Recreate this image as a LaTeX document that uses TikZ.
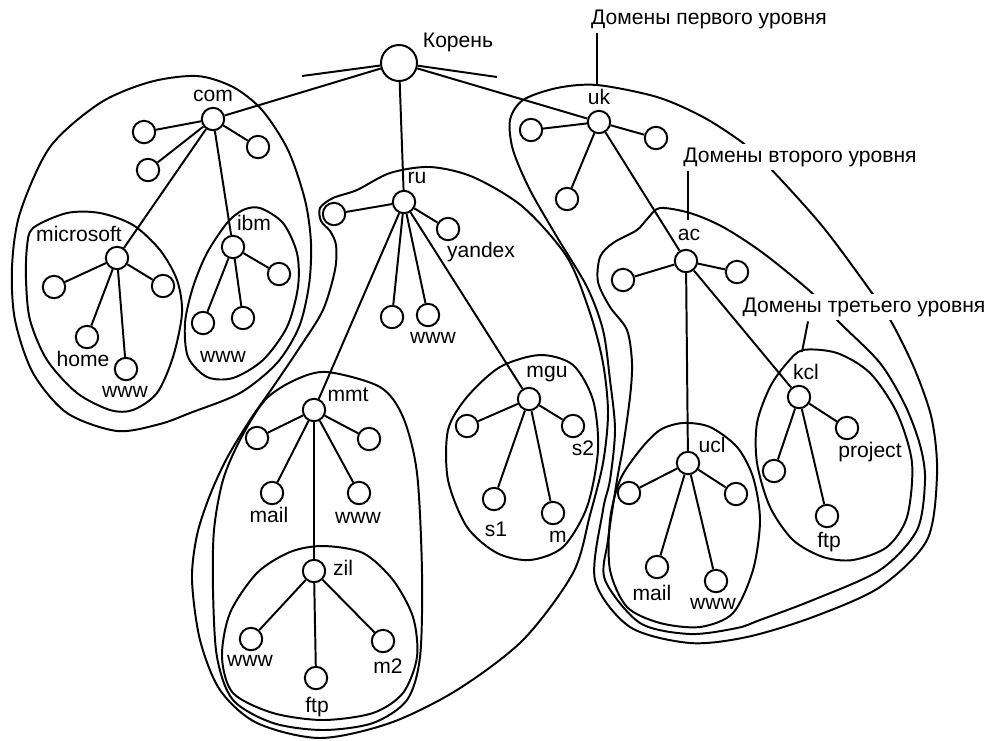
\documentclass[tikz,border=0pt]{standalone}
\usepackage{fontspec}
\setmainfont{Liberation Sans}
\usepackage{tikz}

\begin{document}
\begin{tikzpicture}[x=0.25mm, y=-0.25mm, line width=1.4pt,
  dom/.style={circle, draw, fill=white, minimum size=5.6mm, inner sep=0pt},
  rootdom/.style={dom, minimum size=9mm},
  lab/.style={font=\fontsize{15}{18}\selectfont, inner sep=0pt},
  lvl/.style={lab, fill=white, inner sep=1mm}
]
\useasboundingbox (0,0) rectangle (988,740);

% zones
\draw plot[smooth cycle] coordinates {(197,76) (233,87) (262,110) (288,150) (305,200) (311,243) (309,285) (299,327) (277,363) (240,393) (190,413) (160,424) (117,431) (67,413) (33,373) (15,320) (12,267) (20,213) (50,147) (100,103) (150,82)};
\draw plot[smooth cycle] coordinates {(33,228) (67,213) (100,213) (133,225) (160,250) (177,280) (182,313) (173,357) (157,393) (133,410) (110,410) (77,393) (47,360) (30,320) (26,280) (27,247)};
\draw plot[smooth cycle] coordinates {(260,208) (283,223) (297,253) (298,287) (287,327) (263,360) (233,378) (207,377) (188,357) (185,323) (193,287) (207,253) (227,223) (243,210)};
\draw plot[smooth cycle] coordinates {(430,167) (473,177) (523,207) (567,257) (590,313) (603,363) (608,413) (603,463) (590,515) (573,573) (523,640) (457,690) (390,723) (320,738) (257,723) (220,690) (200,640) (192,580) (197,535) (210,495) (227,458) (250,420) (273,387) (300,347) (323,310) (335,270) (336,245) (330,231) (321,221) (320,208) (333,198) (357,190) (390,173)};
\draw plot[smooth cycle] coordinates {(327,372) (380,387) (403,417) (417,473) (422,573) (420,657) (407,700) (373,723) (323,730) (273,723) (233,700) (217,657) (213,590) (214,530) (223,480) (240,440) (265,400) (295,380)};
\draw plot[smooth cycle] coordinates {(323,546) (363,553) (393,580) (413,617) (417,657) (403,693) (373,713) (323,720) (273,713) (233,693) (222,657) (230,613) (257,573) (290,552)};
\draw plot[smooth cycle] coordinates {(540,355) (573,365) (593,400) (598,450) (587,507) (563,547) (530,560) (497,553) (467,527) (448,480) (448,430) (467,397) (500,367)};
\draw plot[smooth cycle] coordinates {(523,100) (557,88) (597,85) (657,97) (703,117) (743,143) (770,168) (823,227) (872,293) (892,323) (915,370) (932,420) (937,475) (927,540) (880,587) (813,617) (747,637) (690,643) (630,627) (595,580) (603,510) (610,480) (615,430) (610,380) (603,330) (587,287) (557,237) (530,190) (513,150) (510,120)};
\draw plot[smooth cycle] coordinates {(660,208) (690,213) (723,227) (763,253) (812,293) (840,323) (880,363) (905,405) (920,445) (925,480) (917,530) (880,570) (813,600) (760,620) (737,628) (690,634) (640,623) (605,580) (608,540) (617,480) (623,447) (630,397) (632,363) (627,330) (610,307) (598,282) (600,257) (613,243) (637,230) (648,218)};
\draw plot[smooth cycle] coordinates {(683,423) (710,427) (737,447) (753,477) (760,520) (753,570) (733,613) (700,627) (660,623) (627,607) (610,570) (610,520) (620,480) (640,450) (660,430)};
\draw plot[smooth cycle] coordinates {(803,350) (837,353) (870,373) (897,413) (912,463) (907,517) (887,547) (853,560) (823,557) (793,540) (770,507) (757,463) (757,423) (770,387) (787,363)};

% domains
\node[rootdom] (root) at (399,63) {};
\foreach \n/\x/\y in {com/213/119, com1/144/132, com2/148/170, com3/258/147,
    ms/117/258, ms1/54/287, ms2/163/286, ms3/87/337, ms4/126/369,
    ibm/233/247, ibm1/203/323, ibm2/243/318, ibm3/279/274,
    ru/404/202, ru1/334/214, ru2/448/229, ru3/392/317, ru4/428/315,
    mmt/314/410, mmt1/257/438, mmt2/369/439, mmt3/272/493, mmt4/359/493,
    zil/314/571, zil1/251/639, zil2/316/678, zil3/383/641,
    mgu/529/399, mgu1/467/426, mgu2/573/426, mgu3/494/499, mgu4/553/513,
    uk/599/122, uk1/531/130, uk2/656/138, uk3/567/199,
    ac/686/261, ac1/623/280, ac2/737/272,
    ucl/688/463, ucl1/629/493, ucl2/736/494, ucl3/657/567, ucl4/716/581,
    kcl/799/397, kcl1/774/471, kcl2/847/428, kcl3/827/516}
  \node[dom] (\n) at (\x,\y) {};

\coordinate (stubl) at (302,76);
\coordinate (stubr) at (497,77);
\foreach \a/\b in {root/stubl, root/stubr, root/com, root/ru, root/uk,
    com/com1, com/com2, com/com3, com/ms, com/ibm,
    ms/ms1, ms/ms2, ms/ms3, ms/ms4, ibm/ibm1, ibm/ibm2, ibm/ibm3,
    ru/ru1, ru/ru2, ru/ru3, ru/ru4, ru/mmt, ru/mgu,
    mmt/mmt1, mmt/mmt2, mmt/mmt3, mmt/mmt4, mmt/zil,
    zil/zil1, zil/zil2, zil/zil3,
    mgu/mgu1, mgu/mgu2, mgu/mgu3, mgu/mgu4,
    uk/uk1, uk/uk2, uk/uk3, uk/ac, ac/ac1, ac/ac2, ac/ucl, ac/kcl,
    ucl/ucl1, ucl/ucl2, ucl/ucl3, ucl/ucl4, kcl/kcl1, kcl/kcl2, kcl/kcl3}
  \draw (\a) -- (\b);

% labels
\node[lab] (lroot) at (458,42) {Корень};
\node[lab] at (213,96) {com};
\node[lab] at (79,234) {microsoft};
\node[lab] at (83,359) {home};
\node[lab] at (125,392) {www};
\node[lab] at (254,223) {ibm};
\node[lab] at (223,357) {www};
\node[lab] at (417,178) {ru};
\node[lab] at (481,252) {yandex};
\node[lab] at (433,338) {www};
\node[lab] at (348,395) {mmt};
\node[lab] at (269,515) {mail};
\node[lab] at (358,518) {www};
\node[lab] at (343,568) {zil};
\node[lab] at (250,661) {www};
\node[lab] at (317,707) {ftp};
\node[lab] at (388,666) {m2};
\node[lab] at (547,374) {mgu};
\node[lab] at (583,448) {s2};
\node[lab] at (496,529) {s1};
\node[lab] at (558,537) {m};
\node[lab] at (599,97) {uk};
\node[lab] at (689,235) {ac};
\node[lab] at (712,445) {ucl};
\node[lab] at (652,593) {mail};
\node[lab] at (713,604) {www};
\node[lab] at (806,372) {kcl};
\node[lab] at (870,452) {project};
\node[lab] at (829,542) {ftp};

% levels
\node[lvl] (lvl1) at (709,19) {Домены первого уровня};
\node[lvl] (lvl2) at (800,157) {Домены второго уровня};
\node[lvl] (lvl3) at (864,307) {Домены третьего уровня};
\coordinate (e1) at (597,85);
\coordinate (e2) at (688,220);
\coordinate (e3) at (802,352);
\draw (lvl1.south -| e1) -- (e1);
\draw (lvl2.south -| e2) -- (e2);
\draw ([xshift=1.5mm]lvl3.south -| e3) -- (e3);
\end{tikzpicture}
\end{document}
